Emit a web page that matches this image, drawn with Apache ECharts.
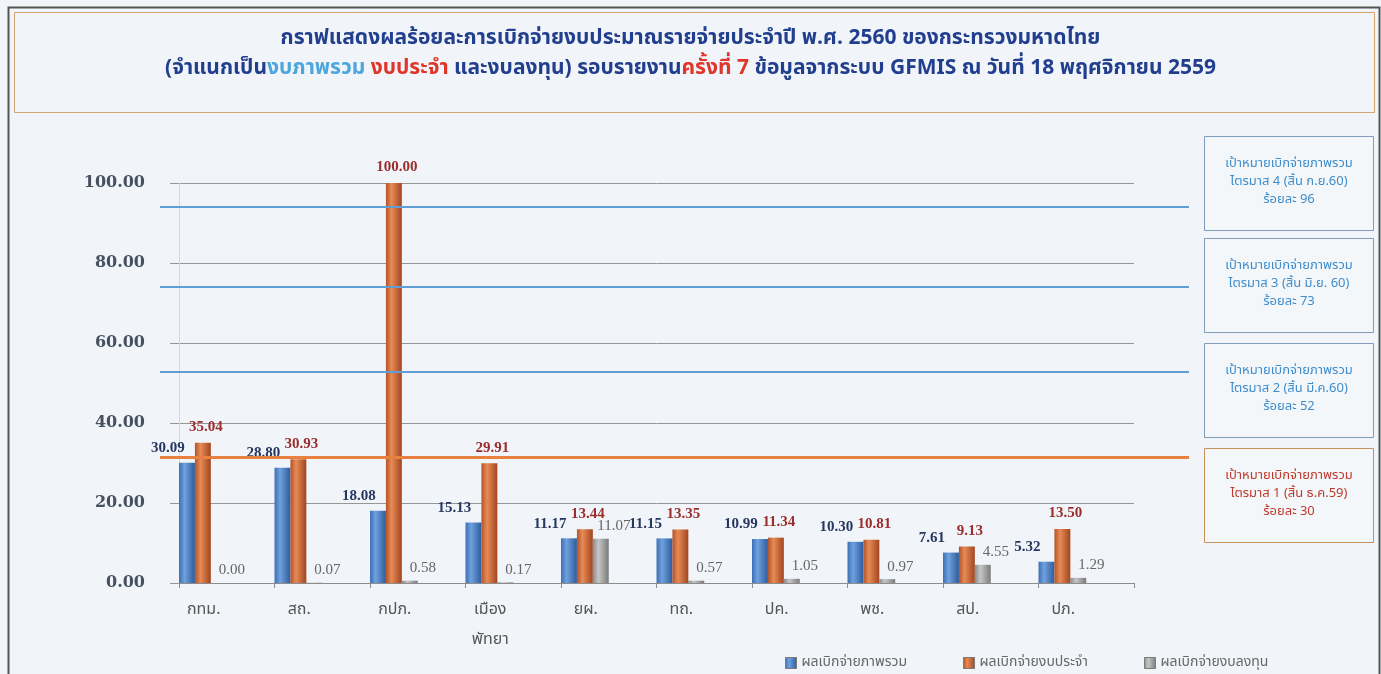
<!DOCTYPE html>
<html>
<head>
<meta charset="utf-8">
<script src="https://cdn.jsdelivr.net/npm/echarts@6/dist/echarts.min.js"></script>
<style>
  html, body { margin: 0; padding: 0; background: #f1f5f9; }
  #chart { width: 1381px; height: 674px; }
</style>
</head>
<body>
<div id="chart"></div>
<script>
// ---- data ----
var categories = ['กทม.', 'สถ.', 'กปภ.', 'เมือง\nพัทยา', 'ยผ.', 'ทถ.', 'ปค.', 'พช.', 'สป.', 'ปภ.'];
var overallValues = [30.09, 28.80, 18.08, 15.13, 11.17, 11.15, 10.99, 10.30, 7.61, 5.32];
var regularValues = [35.04, 30.93, 100.00, 29.91, 13.44, 13.35, 11.34, 10.81, 9.13, 13.50];
var investValues = [0.00, 0.07, 0.58, 0.17, 11.07, 0.57, 1.05, 0.97, 4.55, 1.29];
var seriesNames = ['ผลเบิกจ่ายภาพรวม', 'ผลเบิกจ่ายงบประจำ', 'ผลเบิกจ่ายงบลงทุน'];
var yMin = 0, yMax = 100, yStep = 20;
// target lines, where they sit on the chart (q4, q3, q2, q1)
var targetLevels = [94.1, 74.1, 52.8, 31.4];
var targetNotes = [
  ['เป้าหมายเบิกจ่ายภาพรวม', 'ไตรมาส 4 (สิ้น ก.ย.60)', 'ร้อยละ 96'],
  ['เป้าหมายเบิกจ่ายภาพรวม', 'ไตรมาส 3 (สิ้น มิ.ย. 60)', 'ร้อยละ 73'],
  ['เป้าหมายเบิกจ่ายภาพรวม', 'ไตรมาส 2 (สิ้น มี.ค.60)', 'ร้อยละ 52'],
  ['เป้าหมายเบิกจ่ายภาพรวม', 'ไตรมาส 1 (สิ้น ธ.ค.59)', 'ร้อยละ 30']
];

var thaiFont = '"Noto Sans Thai", "Noto Sans", "DejaVu Sans", sans-serif';
var numFont = '"Liberation Serif", "DejaVu Serif", serif';

function grad(a, b, c) {
  return new echarts.graphic.LinearGradient(0, 0, 1, 0, [
    { offset: 0, color: a }, { offset: 0.35, color: b }, { offset: 1, color: c }
  ]);
}
function fmt(p) { return Number(p.value).toFixed(2); }

var myChart = echarts.init(document.getElementById('chart'));

// note boxes on the right
var boxTops = [136, 238, 343, 448];
var boxGraphics = [];
for (var i = 0; i < targetNotes.length; i++) {
  var isRed = (i == 3);
  boxGraphics.push({
    type: 'group', left: 1204, top: boxTops[i], silent: true,
    children: [
      { type: 'rect', shape: { x: 0, y: 0, width: 169, height: 94 },
        style: { fill: 'rgba(255,255,255,0.25)', stroke: isRed ? '#c8915a' : '#7f9cba', lineWidth: 1 } },
      { type: 'text', x: 84.5, y: 46,
        style: { text: targetNotes[i].join('\n'), align: 'center', verticalAlign: 'middle',
                 lineHeight: 18, font: '13px ' + thaiFont, fill: isRed ? '#c0392b' : '#3f8dcc' } }
    ]
  });
}

var option = {
  backgroundColor: '#f1f5f9',
  animation: false,
  title: {
    text: 'กราฟแสดงผลร้อยละการเบิกจ่ายงบประมาณรายจ่ายประจำปี พ.ศ. 2560 ของกระทรวงมหาดไทย',
    subtext: '(จำแนกเป็น{b|งบภาพรวม} {r|งบประจำ} และงบลงทุน) รอบรายงาน{r|ครั้งที่ 7} ข้อมูลจากระบบ GFMIS ณ วันที่ 18 พฤศจิกายน 2559',
    left: 'center',
    top: 24,
    itemGap: 9,
    textStyle: { fontFamily: thaiFont, fontSize: 21, fontWeight: 'bold', color: '#223f8f' },
    subtextStyle: {
      fontFamily: thaiFont, fontSize: 21, fontWeight: 'bold', color: '#223f8f',
      rich: {
        b: { fontFamily: thaiFont, fontSize: 21, fontWeight: 'bold', color: '#4da6dc' },
        r: { fontFamily: thaiFont, fontSize: 21, fontWeight: 'bold', color: '#e0352b' }
      }
    }
  },
  legend: {
    data: seriesNames,
    left: 780,
    top: 651,
    itemGap: 56,
    itemWidth: 11,
    itemHeight: 11,
    icon: 'rect',
    itemStyle: { borderColor: '#7a7a7a', borderWidth: 1 },
    textStyle: { fontFamily: thaiFont, fontSize: 14, color: '#666' }
  },
  graphic: [
    { type: 'rect', left: 6, top: 5, silent: true, z: -10,
      shape: { x: 0, y: 0, width: 1371, height: 700 },
      style: { fill: 'none', stroke: '#555', lineWidth: 2 } },
    { type: 'rect', left: 12, top: 10, silent: true, z: -10,
      shape: { x: 0, y: 0, width: 1360, height: 100 },
      style: { fill: 'none', stroke: '#d3a373', lineWidth: 1 } }
  ].concat(boxGraphics),
  grid: [
    { left: 179, right: 247, top: 183, bottom: 91 },
    { left: 160, right: 192, top: 183, bottom: 91 }
  ],
  xAxis: [
    {
      type: 'category',
      data: categories,
      gridIndex: 0,
      axisLine: { lineStyle: { color: '#8c8c8c' } },
      axisTick: { show: true, length: 5, lineStyle: { color: '#8c8c8c' } },
      axisLabel: {
        interval: 0, margin: 13, fontSize: 16, lineHeight: 30,
        color: '#555', fontFamily: thaiFont, padding: [0, 46, 0, 0]
      }
    },
    { type: 'value', gridIndex: 1, show: false, min: 0, max: 1 }
  ],
  yAxis: [
    {
      type: 'value',
      gridIndex: 0,
      min: yMin, max: yMax, interval: yStep,
      axisLine: { show: true, lineStyle: { color: '#d5d9df' } },
      axisTick: { show: true, length: 9, lineStyle: { color: '#969696' } },
      splitLine: { lineStyle: { color: '#969696', width: 1 } },
      axisLabel: {
        margin: 34, fontSize: 16, fontWeight: 'bold', color: '#47515f',
        fontFamily: '"DejaVu Serif", serif',
        formatter: function (v) { return v.toFixed(2); }
      }
    },
    { type: 'value', gridIndex: 1, show: false, min: yMin, max: yMax }
  ],
  series: [
    {
      name: seriesNames[0], type: 'bar', data: overallValues,
      barGap: '0%', barCategoryGap: '0%', barWidth: '16.66%',
      itemStyle: { color: grad('#3b70b6', '#6fa1dd', '#2d5c9c') },
      label: { show: true, position: 'top', offset: [-19, -2], formatter: fmt,
               fontFamily: numFont, fontSize: 15, fontWeight: 'bold', color: '#27375f' }
    },
    {
      name: seriesNames[1], type: 'bar', data: regularValues,
      barGap: '0%', barCategoryGap: '0%', barWidth: '16.66%',
      itemStyle: { color: grad('#b4522a', '#e68b55', '#a24520') },
      label: { show: true, position: 'top', offset: [3, -3], formatter: fmt,
               fontFamily: numFont, fontSize: 15, fontWeight: 'bold', color: '#9b2d2d' }
    },
    {
      name: seriesNames[2], type: 'bar', data: investValues,
      barGap: '0%', barCategoryGap: '0%', barWidth: '16.66%',
      itemStyle: { color: grad('#8a8a8a', '#c6c6c6', '#7a7a7a') },
      label: { show: true, position: 'top', offset: [13, 0], formatter: fmt,
               fontFamily: numFont, fontSize: 15, color: '#666' }
    },
    {
      // empty slot so each group sits in the left half of its category
      name: 'spacer', type: 'bar', data: [],
      barGap: '0%', barCategoryGap: '0%', barWidth: '50%'
    },
    {
      name: 'targets', type: 'line', xAxisIndex: 1, yAxisIndex: 1, data: [],
      markLine: {
        silent: true, symbol: 'none', label: { show: false },
        data: targetLevels.map(function (v, i) {
          return {
            yAxis: v,
            lineStyle: i == 3
              ? { color: '#e8803f', width: 3, type: 'solid' }
              : { color: '#5f9fd6', width: 2, type: 'solid' }
          };
        })
      }
    }
  ]
};

myChart.setOption(option);
</script>
</body>
</html>
